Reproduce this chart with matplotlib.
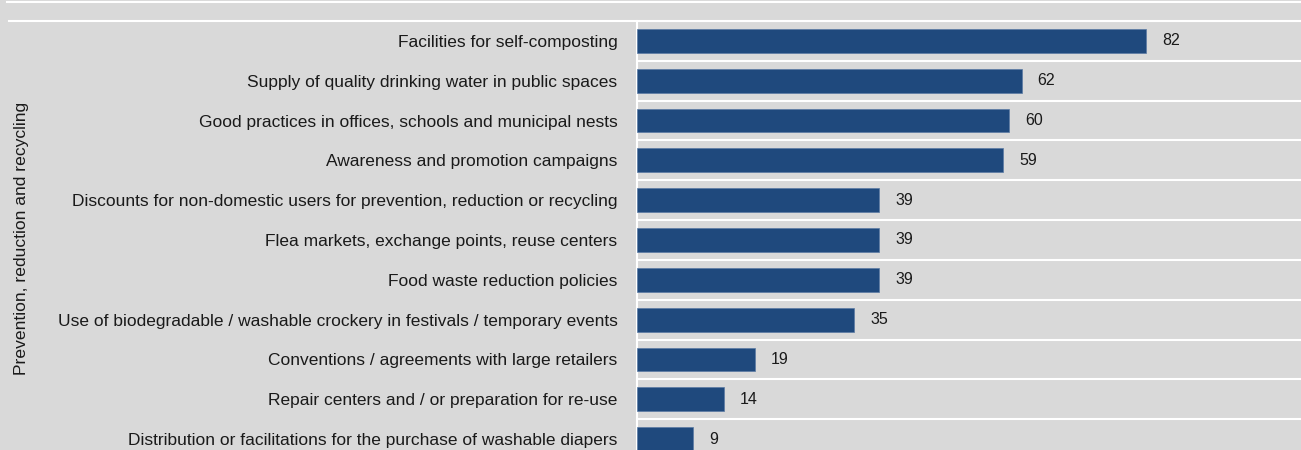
import numpy as np
import matplotlib.pyplot as plt
from matplotlib.lines import Line2D

plt.rcParams['font.family'] = ['Liberation Sans', 'DejaVu Sans']

# datos
categories = [
    "Facilities for self-composting",
    "Supply of quality drinking water in public spaces",
    "Good practices in offices, schools and municipal nests",
    "Awareness and promotion campaigns",
    "Discounts for non-domestic users for prevention, reduction or recycling",
    "Flea markets, exchange points, reuse centers",
    "Food waste reduction policies",
    "Use of biodegradable / washable crockery in festivals / temporary events",
    "Conventions / agreements with large retailers",
    "Repair centers and / or preparation for re-use",
    "Distribution or facilitations for the purchase of washable diapers",
]
values = [82, 62, 60, 59, 39, 39, 39, 35, 19, 14, 9]
group_label = "Prevention, reduction and recycling"

bg = '#d9d9d9'
bar_color = '#1f497d'
txt = '#1a1a1a'

fig = plt.figure(figsize=(13.01, 4.5), dpi=100, facecolor=bg)
W, H = 1301, 450
# eje: de x=637 a la derecha, de y=21 hasta fuera de la figura
ax = fig.add_axes([637/W, 1 - 459/H, 1 - 637/W, 438/H])
ax.set_facecolor(bg)

y = np.arange(len(categories))
ax.barh(y, values, height=0.6, color=bar_color, edgecolor='#5a7aa3', linewidth=0.5, zorder=3)
for yi, v in zip(y, values):
    ax.annotate(str(v), (v, yi), xytext=(16, 0), textcoords='offset pixels',
                va='center', ha='left', fontsize=11.5, color=txt)

ax.set_xlim(0, 107)
ax.set_ylim(len(categories) - 0.5, -0.5)
ax.set_yticks(y)
ax.set_yticklabels(categories, fontsize=12.5, color=txt)
ax.tick_params(axis='y', length=0, pad=14)
ax.set_xticks([])
# lineas blancas entre filas
for b in np.arange(-0.5, len(categories), 1.0):
    ax.axhline(b, color='white', lw=1.5, zorder=1)
for s in ['top', 'right', 'bottom']:
    ax.spines[s].set_visible(False)
ax.spines['left'].set_color('white')
ax.spines['left'].set_linewidth(1.5)

# lineas de la tabla arriba
fig.add_artist(Line2D([7/W, 1], [1 - 1.5/H, 1 - 1.5/H], color='white', lw=1.5))
fig.add_artist(Line2D([9/W, 1], [1 - 21/H, 1 - 21/H], color='white', lw=1.5))

fig.text(22/W, 1 - 238/H, group_label, rotation=90, ha='center', va='center',
         fontsize=12.6, color=txt)

fig.savefig('out.png', dpi=100, facecolor=bg)
